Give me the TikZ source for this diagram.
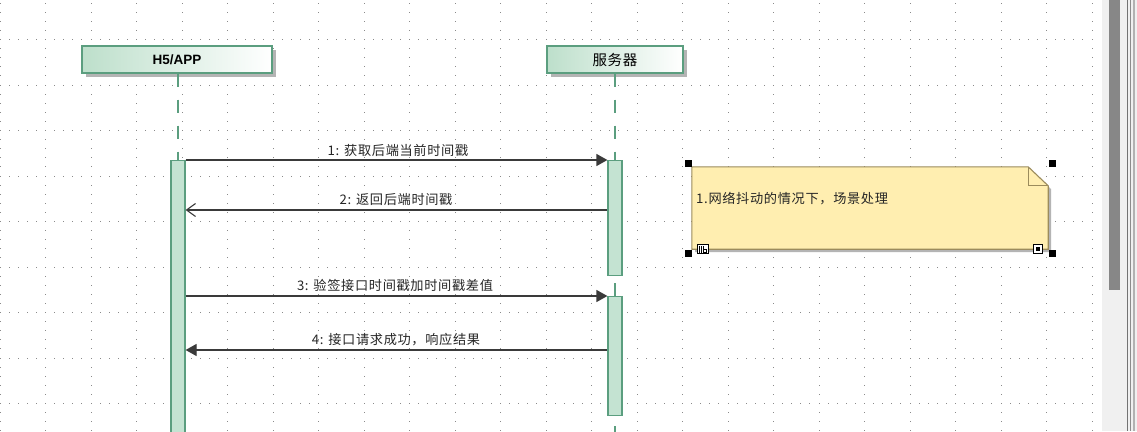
\documentclass[tikz,border=0pt]{standalone}
\usepackage{fontspec}
\setmainfont{Liberation Sans}
\newfontfamily\cjk[LetterSpace=5]{Noto Sans CJK SC}
\usetikzlibrary{arrows.meta,shadows}
\definecolor{actfill}{HTML}{C4E3D2}
\definecolor{actdraw}{HTML}{5B9E7F}
\definecolor{hdrleft}{HTML}{BDDFCB}
\definecolor{notefill}{HTML}{FFEEB0}
\definecolor{notedraw}{HTML}{9B8B5C}
\definecolor{msgc}{HTML}{3A3A3A}
\definecolor{gridc}{HTML}{8A8A8A}
\definecolor{shadowc}{HTML}{B4B4B4}
\definecolor{txtc}{HTML}{262626}
\definecolor{scrollbg}{HTML}{F0F0F0}
\definecolor{thumbc}{HTML}{878787}
\tikzset{
  hdr/.style={draw=actdraw, line width=1.3pt, left color=hdrleft, right color=white,
    inner sep=0pt, text=black,
    drop shadow={shadow xshift=4pt, shadow yshift=-4pt, fill=shadowc, opacity=1}},
  actbar/.style={draw=actdraw, fill=actfill, line width=1.2pt, inner sep=0pt, minimum width=14pt},
  lifeline/.style={draw=actdraw, line width=1.2pt, dash pattern=on 13pt off 13pt},
  msgline/.style={draw=msgc, line width=1.2pt},
  syncarrow/.style={msgline, -{Triangle[length=11pt,width=12pt]}},
  retarrow/.style={msgline, -{Straight Barb[length=9pt,width=13pt,line width=1.1pt]}},
  msglabel/.style={text=txtc, font=\cjk\fontsize{13.2}{15}\selectfont, inner sep=0pt},
  handle/.style={fill=black, minimum size=7pt, inner sep=0pt},
}
\begin{document}
\begin{tikzpicture}[x=1pt,y=-1pt]
\useasboundingbox (0,0) rectangle (1137,431);
\clip (0,0) rectangle (1137,431);
\fill[white] (0,0) rectangle (1137,431);
% grid
\foreach \i in {0,...,24} {
  \foreach \j in {0,...,47} {
    \fill[gridc] ({45.5*\i-0.5},{2.6+9.1*\j}) rectangle +(1,1);
  }
}
\foreach \k in {0,...,8} {
  \foreach \j in {0,...,120} {
    \fill[gridc] ({9.1*\j-0.5},{39+45.5*\k}) rectangle +(1,1);
  }
}
% scrollbar
\fill[scrollbg] (1102,0) rectangle (1137,431);
\fill[thumbc] (1109,0) rectangle (1120,290);
\fill[black!55] (1127,0) rectangle (1128.3,431);
\fill[black!45] (1129.5,0) rectangle (1131,431);
\fill[black!30] (1133,0) rectangle (1135,431);

% headers
\node[hdr, minimum width=190pt, minimum height=27pt] (h5) at (177,59.5)
  {\fontsize{13.5}{15}\selectfont\bfseries H5/APP};
\node[hdr, minimum width=136pt, minimum height=27pt] (srv) at (615,59.5)
  {\cjk\fontsize{14.5}{16}\selectfont 服务器};

% activation bars
\node[actbar, minimum height=290pt, anchor=north] (a1) at (178,160) {};
\node[actbar, minimum height=115pt, anchor=north] (s1) at (615,160) {};
\node[actbar, minimum height=119pt, anchor=north] (s2) at (615,296) {};

% lifelines
\draw[lifeline] (h5.south -| a1.north) -- (a1.north);
\draw[lifeline] (srv.south -| s1.north) -- (s1.north);
\draw[lifeline, dash phase=-7pt] (s1.south) -- (s2.north);
\draw[lifeline, dash phase=-10pt] (s2.south) -- ++(0,20);

% messages
\coordinate (m1) at (0,160);
\coordinate (m2) at (0,210);
\coordinate (m3) at (0,296);
\coordinate (m4) at (0,350);
\draw[syncarrow] (a1.east |- m1) -- (s1.west |- m1);
\draw[retarrow] (s1.west |- m2) -- (a1.east |- m2);
\draw[syncarrow] (a1.east |- m3) -- (s2.west |- m3);
\draw[syncarrow] (s2.west |- m4) -- (a1.east |- m4);

\node[msglabel] (l1) at (398,150) {1: 获取后端当前时间戳};
\node[msglabel] (l2) at (396,199.5) {2: 返回后端时间戳};
\node[msglabel] (l3) at (395,285.5) {3: 验签接口时间戳加时间戳差值};
\node[msglabel] (l4) at (396,340) {4: 接口请求成功，响应结果};

% note
\fill[shadowc] (695,170) -- (1031,170) -- (1051,189) -- (1051,252) -- (695,252) -- cycle;
\node[minimum width=356pt, minimum height=82pt, inner sep=0pt] (note) at (870,208) {};
\filldraw[fill=notefill, draw=notedraw, line width=1.1pt]
  (note.north west) -- ([xshift=-20pt]note.north east) -- ([yshift=-19pt]note.north east)
  -- (note.south east) -- (note.south west) -- cycle;
\draw[draw=notedraw, line width=1.1pt]
  ([xshift=-20pt]note.north east) -- ([xshift=-20pt,yshift=-19pt]note.north east)
  -- ([yshift=-19pt]note.north east);
\node[msglabel, anchor=west] (nt) at (696,198.5) {1.网络抖动的情况下，场景处理};

% selection handles
\node[handle] (hd1) at (688.5,163.5) {};
\node[handle] (hd2) at (1052,163.5) {};
\node[handle] (hd3) at (688.5,253) {};
\node[handle] (hd4) at (1052,253) {};
% small icons
\node[draw=black, fill=white, line width=0.9pt, minimum width=11pt, minimum height=9pt, inner sep=0pt] (ic1) at (703,249) {};
\draw[line width=0.8pt] (699.5,246) -- (699.5,252.5) (701.5,246) -- (701.5,252.5)
  (703.5,246) -- (703.5,252.5) -- (706.5,252.5) -- (706.5,249) -- (703.5,249);
\node[draw=black, fill=white, line width=0.9pt, minimum size=9pt, inner sep=0pt] (ic2) at (1037.5,248.5) {};
\fill[black] (1035.5,246.5) rectangle (1039.5,250.5);
\end{tikzpicture}
\end{document}
